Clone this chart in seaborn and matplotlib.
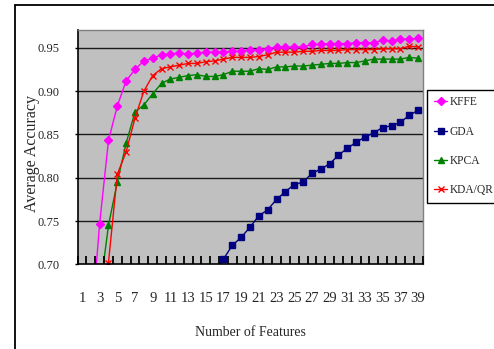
import numpy as np
import pandas as pd
import matplotlib.pyplot as plt
import seaborn as sns
from matplotlib.lines import Line2D

# values (nan = below the visible range, not drawn)
features = list(range(1, 40))

kffe = [np.nan, 0.620, 0.747, 0.843, 0.883, 0.912, 0.925, 0.935, 0.938, 0.942,
        0.943, 0.944, 0.943, 0.944, 0.945, 0.945, 0.945, 0.946, 0.946, 0.948,
        0.948, 0.949, 0.951, 0.951, 0.951, 0.951, 0.954, 0.954, 0.955, 0.955,
        0.955, 0.956, 0.956, 0.956, 0.959, 0.958, 0.960, 0.960, 0.961]

gda = [np.nan] * 15 + [0.690, 0.706, 0.722, 0.731, 0.743, 0.756, 0.763, 0.775,
                       0.784, 0.792, 0.795, 0.805, 0.810, 0.816, 0.826, 0.834,
                       0.841, 0.847, 0.852, 0.858, 0.860, 0.864, 0.872, 0.878]

kpca = [np.nan, np.nan, 0.666, 0.745, 0.795, 0.840, 0.876, 0.884, 0.897, 0.909,
        0.914, 0.916, 0.918, 0.919, 0.917, 0.917, 0.919, 0.923, 0.923, 0.923,
        0.926, 0.925, 0.928, 0.928, 0.929, 0.929, 0.930, 0.931, 0.932, 0.932,
        0.933, 0.933, 0.935, 0.937, 0.937, 0.937, 0.937, 0.939, 0.938]

kdaqr = [np.nan, np.nan, 0.620, 0.702, 0.804, 0.830, 0.869, 0.900, 0.918, 0.926,
         0.928, 0.930, 0.932, 0.932, 0.934, 0.935, 0.937, 0.939, 0.939, 0.939,
         0.940, 0.942, 0.945, 0.945, 0.945, 0.946, 0.946, 0.947, 0.947, 0.947,
         0.948, 0.948, 0.948, 0.948, 0.949, 0.949, 0.949, 0.952, 0.951]

series_names = ["KFFE", "GDA", "KPCA", "KDA/QR"]
series_values = [kffe, gda, kpca, kdaqr]
series_colors = ["#FF00FF", "#000080", "#008000", "#FF0000"]
series_markers = ["D", "s", "^", "x"]
series_msize = [3.8, 4.3, 5.0, 4.5]

x_labels = [str(i) for i in range(1, 40, 2)]
y_ticks = [0.70, 0.75, 0.80, 0.85, 0.90, 0.95]


def main():
    sns.set_style("ticks")
    plt.rcParams.update({
        "font.family": ["Liberation Serif", "DejaVu Serif"],
        "axes.axisbelow": False,
    })

    fig = plt.figure(figsize=(4.94, 3.49), dpi=100)
    ax = fig.add_axes([0.1569, 0.2427, 0.6984, 0.6713])
    ax.set_facecolor("#C0C0C0")

    for name, vals, col, mk, ms in zip(series_names, series_values, series_colors,
                                       series_markers, series_msize):
        df = pd.DataFrame({"features": features, "acc": vals}).dropna()
        sns.lineplot(data=df, x="features", y="acc", ax=ax, color=col, marker=mk,
                     markersize=ms, markeredgecolor=col, markeredgewidth=1.0,
                     linewidth=1.0, label=name, legend=False)

    ax.set_xlim(0.5, 39.5)
    ax.set_ylim(0.70, 0.9706)

    # horizontal gridlines
    for v in y_ticks[1:]:
        ax.axhline(v, color="#1a1a1a", lw=1.0, zorder=0.5)

    # category boundary ticks (major, unlabeled) + centred labels (minor, no mark)
    ax.set_xticks(np.arange(0.5, 40, 1))
    ax.set_xticklabels([])
    ax.set_xticks(range(1, 40, 2), labels=x_labels, minor=True)
    ax.tick_params(axis="x", which="major", direction="in", length=5.5, width=1.3,
                   color="#000000", bottom=True, top=False)
    ax.tick_params(axis="x", which="minor", length=0, pad=20, labelsize=10.5,
                   bottom=True, labelbottom=True)
    ax.set_yticks(y_ticks)
    ax.set_yticklabels([f"{v:.2f}" for v in y_ticks])
    ax.tick_params(axis="y", which="major", direction="out", length=2.5, width=1.0,
                   color="black", left=True, pad=10.5, labelsize=9)
    ax.tick_params(axis="y", which="minor", left=False)

    for side in ["left", "bottom"]:
        ax.spines[side].set_color("black")
        ax.spines[side].set_linewidth(1.2)
    for side in ["top", "right"]:
        ax.spines[side].set_visible(True)
        ax.spines[side].set_color("#808080")
        ax.spines[side].set_linewidth(1.0)

    ax.set_xlabel("Number of Features", fontsize=10)
    ax.xaxis.set_label_coords(0.5, -0.262)
    ax.set_ylabel("Average Accuracy", fontsize=11.5)
    ax.yaxis.label.set_va("center")
    ax.yaxis.set_label_coords(-0.133, 0.475)

    handles = [Line2D([], [], color=c, marker=m, markersize=s, markeredgecolor=c,
                      lw=1.0) for c, m, s in zip(series_colors, series_markers,
                                                 series_msize)]
    leg = fig.legend(handles, series_names, loc="upper left",
                     bbox_to_anchor=(427.3 / 494, 1 - 90 / 349), frameon=True,
                     fancybox=False, edgecolor="black", framealpha=1,
                     fontsize=8.3, handlelength=1.2, handletextpad=0.2,
                     labelspacing=1.5, borderpad=0.55, borderaxespad=0)
    leg.get_frame().set_linewidth(1.0)

    # outer chart frame (top and left edges visible)
    x0 = 14.5 / 494
    y0 = 1 - 5 / 349
    fig.add_artist(Line2D([x0, x0], [0, y0], transform=fig.transFigure,
                          color="black", lw=1.3))
    fig.add_artist(Line2D([x0, 1], [y0, y0], transform=fig.transFigure,
                          color="black", lw=1.3))

    fig.savefig("out.png", dpi=100)


if __name__ == '__main__':
    main()
